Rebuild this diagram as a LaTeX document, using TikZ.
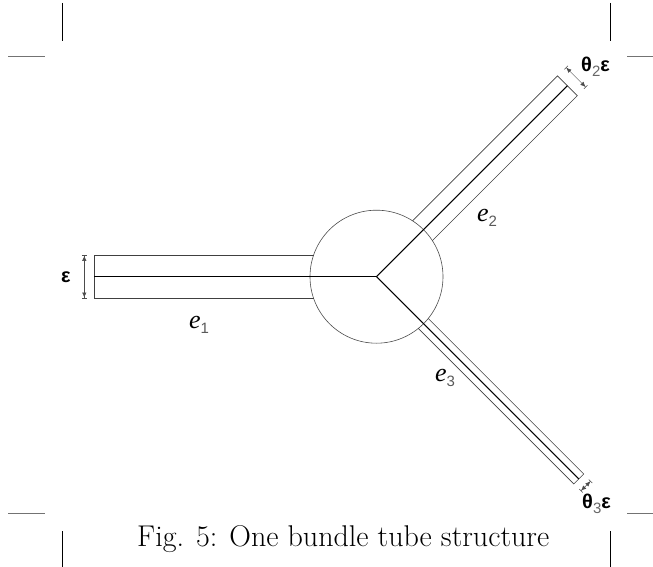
\documentclass[tikz,border=0pt]{standalone}
\usepackage{fontspec}
\newfontfamily\lsans{Liberation Sans}
\newfontfamily\lserif{Liberation Serif}
\usetikzlibrary{arrows.meta}
\begin{document}
\begin{tikzpicture}[x=1pt,y=-1pt,
  tubeline/.style={draw=black!75, line width=0.6pt},
  axisline/.style={draw=black, line width=1.1pt},
  cropv/.style={draw=black, line width=1pt},
  croph/.style={draw=black!55, line width=1pt},
  dimline/.style={draw=black!70, line width=0.5pt,
    {Bar[width=5pt]Latex[length=5pt,width=4.5pt]}-{Latex[length=5pt,width=4.5pt]Bar[width=5pt]}},
  lab/.style={inner sep=0pt, anchor=base west},
  bigsym/.style={lab, font=\lsans\fontsize{20}{20}\selectfont\bfseries},
  elab/.style={lab, font=\lserif\itshape\fontsize{26}{26}\selectfont}]
\useasboundingbox (0,0) rectangle (653,567);
% crop marks
\draw[cropv] (62,3) -- (62,41);
\draw[croph] (8,57) -- (45,57);
\draw[cropv] (610,3) -- (610,41);
\draw[croph] (627,57) -- (653,57);
\draw[croph] (8,513) -- (45,513);
\draw[cropv] (62,531) -- (62,567);
\draw[croph] (627,513) -- (653,513);
\draw[cropv] (610,531) -- (610,567);
% hub
\node[circle, draw=black!70, line width=0.6pt, minimum size=133pt, inner sep=0pt] (hub) at (376.5,276.7) {};
% tube e1
\begin{scope}[shift={(hub.center)}, rotate=180]
  \coordinate (c1) at (0,0);
  \coordinate (e1end) at (282.2,0);
  \draw[tubeline] ({sqrt(66.5*66.5-21.3*21.3)},-21.3) -- (282.2,-21.3) -- (282.2,21.3) -- ({sqrt(66.5*66.5-21.3*21.3)},21.3);
  \draw[axisline] (c1) -- (e1end);
  \coordinate (d1a) at (292.2,-21.3);
  \coordinate (d1b) at (292.2,21.3);
  \draw[dimline] (d1a) -- (d1b);
\end{scope}
% tube e2
\begin{scope}[shift={(hub.center)}, rotate=45]
  \coordinate (c2) at (0,0);
  \coordinate (e2end) at (270,0);
  \draw[tubeline] ({sqrt(66.5*66.5-14*14)},-14) -- (270,-14) -- (270,14) -- ({sqrt(66.5*66.5-14*14)},14);
  \draw[axisline] (c2) -- (e2end);
  \coordinate (d2a) at (282,14);
  \coordinate (d2b) at (282,-14);
  \draw[dimline] (d2a) -- (d2b);
\end{scope}
% tube e3
\begin{scope}[shift={(hub.center)}, rotate=-45]
  \coordinate (c3) at (0,0);
  \coordinate (e3end) at (286,0);
  \draw[tubeline] ({sqrt(66.5*66.5-7*7)},-7) -- (286,-7) -- (286,7) -- ({sqrt(66.5*66.5-7*7)},7);
  \draw[axisline] (c3) -- (e3end);
  \coordinate (d3a) at (296,7);
  \coordinate (d3b) at (296,-7);
  \draw[dimline] (d3a) -- (d3b);
\end{scope}
% labels
\node[bigsym] (eps) at (61,282) {ε};
\node[bigsym] (t2) at (581,72) {θ\raisebox{-5pt}{\mdseries\fontsize{15}{15}\selectfont\color{black!60}2}ε};
\node[bigsym] (t3) at (582,508) {θ\raisebox{-5pt}{\mdseries\fontsize{15}{15}\selectfont\color{black!60}3}ε};
\node[elab] (l1) at (189,328) {e\raisebox{-5pt}{\upshape\lsans\fontsize{15}{15}\selectfont\color{black!65}1}};
\node[elab] (l2) at (477,221) {e\raisebox{-5pt}{\upshape\lsans\fontsize{15}{15}\selectfont\color{black!65}2}};
\node[elab] (l3) at (435,381) {e\raisebox{-5pt}{\upshape\lsans\fontsize{15}{15}\selectfont\color{black!65}3}};
\node[lab, font=\fontsize{30}{34}\selectfont] (cap) at (137,546) {Fig. 5: One bundle tube structure};
\end{tikzpicture}
\end{document}
